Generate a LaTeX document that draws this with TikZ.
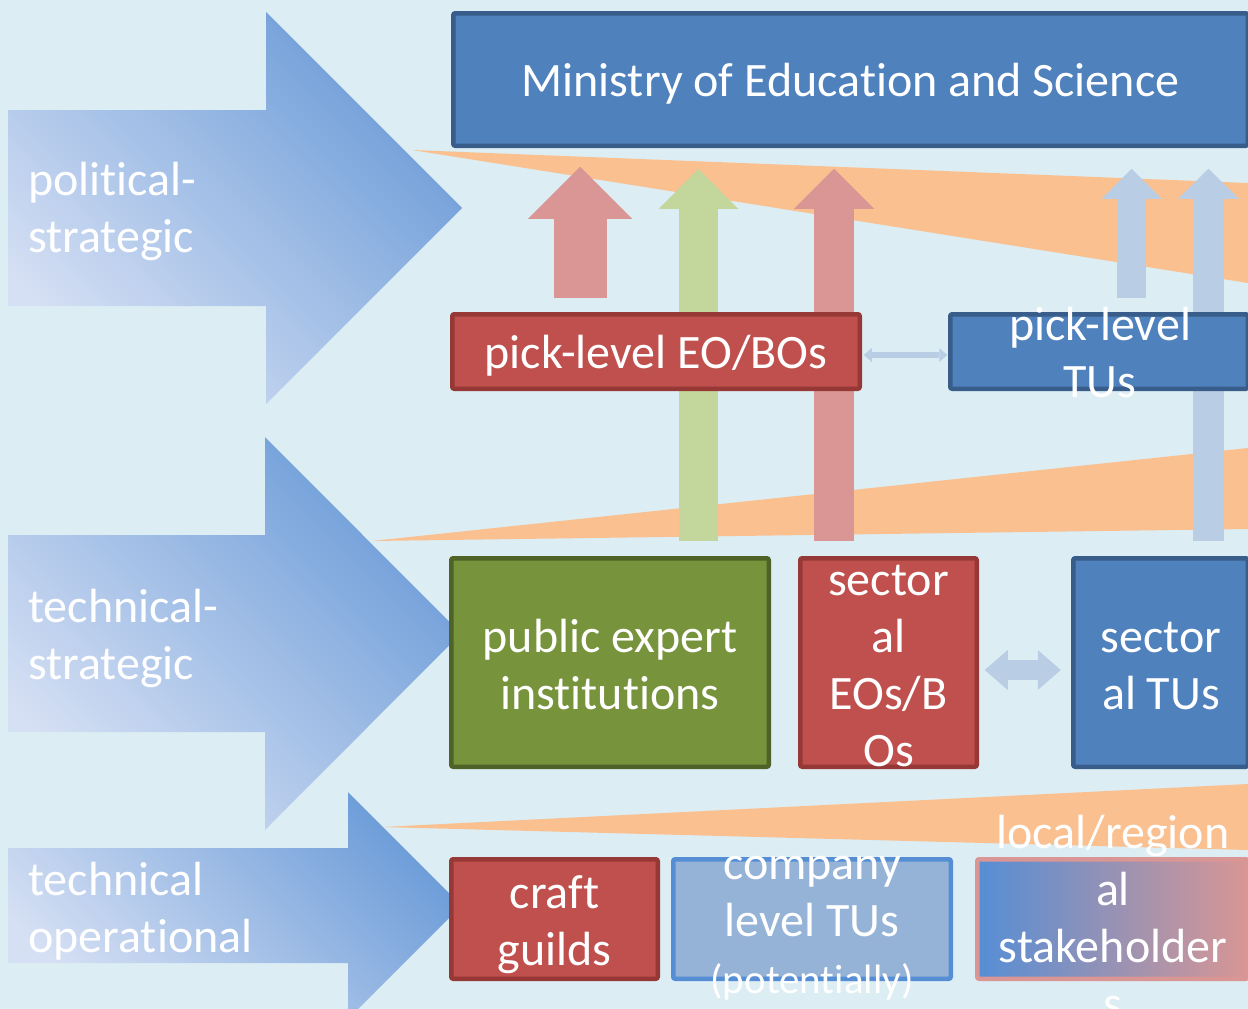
\documentclass[tikz,border=0pt]{standalone}
\usepackage{fontspec}
\setmainfont{Carlito}[Ligatures={NoCommon,NoRare}]
\usetikzlibrary{arrows.meta}

\definecolor{bgc}{RGB}{220,238,243}
\definecolor{blueF}{RGB}{79,129,189}
\definecolor{blueD}{RGB}{56,93,138}
\definecolor{redF}{RGB}{192,80,77}
\definecolor{redD}{RGB}{150,56,53}
\definecolor{greenF}{RGB}{119,147,60}
\definecolor{greenD}{RGB}{79,98,40}
\definecolor{paleB}{RGB}{149,179,215}
\definecolor{brightB}{RGB}{85,142,213}
\definecolor{pinkA}{RGB}{217,150,148}
\definecolor{greenA}{RGB}{195,214,155}
\definecolor{blueA}{RGB}{185,205,229}
\definecolor{orangeW}{RGB}{250,192,144}
\definecolor{levelL}{RGB}{214,224,244}
\definecolor{levelD}{RGB}{108,156,216}

\pgfdeclarelayer{back}
\pgfdeclarelayer{mid}
\pgfsetlayers{back,mid,main}

% uniform line slot: 43pt above, 14pt below the baseline
\newcommand\ls{\rule[-14pt]{0pt}{57pt}}

\begin{document}
\begin{tikzpicture}[x=1pt,y=-1pt,
  box/.style={rectangle, line width=4.5pt, rounded corners=2pt, inner sep=0pt, outer sep=0pt},
  txt/.style={text=white, font=\fontsize{48}{57}\selectfont, align=center, inner sep=0pt, yshift=-2pt},
  lvl/.style={text=white, font=\fontsize{48}{57}\selectfont, align=left, inner sep=0pt, anchor=west, yshift=-2pt},
  level/.style={top color=levelD, bottom color=levelL, shading angle=-45},
  wedge/.style={fill=orangeW},
  up/.style n args={4}{draw=#1, line width=#2, -{Triangle[width=#3, length=#4, line width=0pt]}},
  dbl/.style n args={3}{draw=blueA, line width=#1,
    {Triangle[width=#2, length=#3, line width=0pt]}-{Triangle[width=#2, length=#3, line width=0pt]}}
]
\useasboundingbox (0,0) rectangle (1248,1009);
\clip (0,0) rectangle (1248,1009);

\begin{pgfonlayer}{back}
\fill[bgc] (0,0) rectangle (1248,1009);
% level arrows
\shade[level] (8,110) -- (266,110) -- (266,12) -- (462,208) -- (266,404) -- (266,306) -- (8,306) -- cycle;
\shade[level] (8,535) -- (265,535) -- (265,437) -- (461,633.5) -- (265,830) -- (265,732) -- (8,732) -- cycle;
\shade[level] (8,848) -- (348,848) -- (348,792) -- (461.5,905.5) -- (348,1019) -- (348,963) -- (8,963) -- cycle;
% widening wedges
\fill[wedge] (412,150) -- (1248,183) -- (1248,283) -- cycle;
\fill[wedge] (372,541) -- (1248,448) -- (1248,529) -- cycle;
\fill[wedge] (382,827) -- (1248,784) -- (1248,850) -- cycle;
\end{pgfonlayer}

\node[lvl] (lv1) at (28,207) {\ls political-\\\ls strategic};
\node[lvl] (lv2) at (28,634.5) {\ls technical-\\\ls strategic};
\node[lvl] (lv3) at (28,907) {\ls technical\\\ls operational};

% boxes (texts are set separately so that they may overflow)
\node[box, fill=blueF, draw=blueD, minimum width=794.5pt, minimum height=132.5pt] (ministry) at (850.5,79.5) {};
\node[box, fill=redF, draw=redD, minimum width=407.5pt, minimum height=74.5pt] (pickEO) at (656,351.5) {};
\node[box, fill=blueF, draw=blueD, minimum width=297.5pt, minimum height=74.5pt] (pickTU) at (1099,351.5) {};
\node[box, fill=greenF, draw=greenD, minimum width=317.5pt, minimum height=208.5pt] (pubexp) at (610,662.5) {};
\node[box, fill=redF, draw=redD, minimum width=176.5pt, minimum height=208.5pt] (sectEO) at (888.5,662.5) {};
\node[box, fill=blueF, draw=blueD, minimum width=174.5pt, minimum height=208.5pt] (sectTU) at (1160.5,662.5) {};
\node[box, fill=redF, draw=redD, minimum width=206.5pt, minimum height=119.5pt] (craft) at (554.5,919) {};
\node[box, fill=paleB, draw=brightB, minimum width=277.5pt, minimum height=119.5pt] (company) at (812,919) {};
\node[box, left color=brightB, right color=pinkA, draw=pinkA, minimum width=270.5pt, minimum height=119.5pt] (local) at (1112.5,919) {};

% upward influence arrows, passing behind the boxes they cross
\coordinate (xA) at (580,0);
\coordinate (xB) at (698.5,0);
\coordinate (xC) at (834,0);
\coordinate (xD) at (1131.5,0);
\coordinate (xE) at (1208.5,0);
\begin{pgfonlayer}{mid}
\draw[up={pinkA}{53pt}{104pt}{52pt}, shorten <=16pt, shorten >=21pt] (xA |- pickEO.north) -- (xA |- ministry.south);
\draw[up={greenA}{39pt}{79pt}{40pt}, shorten <=17pt, shorten >=23pt] (xB |- pubexp.north) -- (xB |- ministry.south);
\draw[up={pinkA}{40pt}{80pt}{40pt}, shorten <=17pt, shorten >=23pt] (xC |- sectEO.north) -- (xC |- ministry.south);
\draw[up={blueA}{29pt}{60pt}{30pt}, shorten <=16pt, shorten >=23pt] (xD |- pickTU.north) -- (xD |- ministry.south);
\draw[up={blueA}{31pt}{61pt}{30pt}, shorten <=17pt, shorten >=23pt] (xE |- sectTU.north) -- (xE |- ministry.south);
\end{pgfonlayer}

% exchange between employers' and workers' sides
\draw[dbl={6pt}{14pt}{8pt}, shorten <=4pt, shorten >=3pt] ([yshift=-3.5pt]pickEO.east) -- ([yshift=-3.5pt]pickTU.west);
\draw[dbl={20pt}{40pt}{23pt}, shorten <=8pt, shorten >=12.5pt] ([yshift=-7.5pt]sectEO.east) -- ([yshift=-7.5pt]sectTU.west);

% texts
\node[txt] (tMin) at (850.5,79.5) {\ls Ministry of Education and Science};
\node[txt] (tPickEO) at (656,352) {\ls pick-level EO/BOs};
\node[txt] (tPickTU) at (1100,352.5) {\ls pick-level\\\ls TUs};
\node[txt] (tPub) at (610,664.5) {\ls public expert\\\ls institutions};
\node[txt] (tSectEO) at (888.5,664.5) {\ls sector\\\ls al\\\ls EOs/B\\\ls Os};
\node[txt] (tSectTU) at (1161,664.5) {\ls sector\\\ls al TUs};
\node[txt] (tCraft) at (554.5,920) {\ls craft\\\ls guilds};
\node[txt] (tComp) at (812,920) {\ls company\\\ls level TUs\\\ls {\fontsize{41}{57}\selectfont(potentially)}};
\node[txt] (tLocal) at (1113,917.5) {\ls local/region\\\ls al\\\ls stakeholder\\\ls s};
\end{tikzpicture}
\end{document}
